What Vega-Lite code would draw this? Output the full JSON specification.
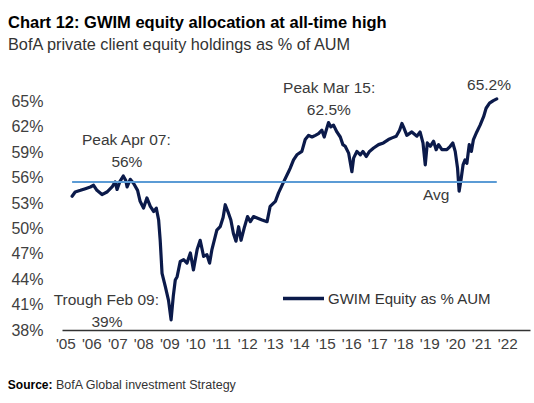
{
  "$schema": "https://vega.github.io/schema/vega-lite/v6.json",
  "autosize": "none",
  "width": 468,
  "height": 237,
  "padding": {"left": 62, "top": 93, "right": 4, "bottom": 73},
  "background": "white",
  "config": {
    "view": {"stroke": null},
    "font": "Liberation Sans",
    "axis": {"labelOverlap": false, "labelFlush": false, "grid": false, "ticks": false, "title": null},
    "axisX": {
      "domain": true,
      "domainColor": "#333333",
      "domainWidth": 1.5,
      "labelFontSize": 15.3,
      "labelColor": "#404040",
      "labelPadding": 6
    },
    "axisY": {
      "domain": false,
      "labelFontSize": 16,
      "labelColor": "#404040",
      "labelPadding": 19
    }
  },
  "title": {
    "text": "Chart 12: GWIM equity allocation at all-time high",
    "subtitle": "BofA private client equity holdings as % of AUM",
    "anchor": "start",
    "frame": "group",
    "dx": -54,
    "offset": 25,
    "font": "Liberation Sans",
    "fontSize": 16.5,
    "fontWeight": "bold",
    "color": "#000000",
    "subtitleFont": "Liberation Sans",
    "subtitleFontSize": 16.3,
    "subtitleColor": "#333333",
    "subtitlePadding": 6
  },
  "datasets": {
    "series": [
      {"date": "2005-04-05", "value": 53.8},
      {"date": "2005-05-18", "value": 54.3},
      {"date": "2005-08-01", "value": 54.5},
      {"date": "2005-10-08", "value": 54.7},
      {"date": "2005-12-17", "value": 54.9},
      {"date": "2006-02-01", "value": 55.1},
      {"date": "2006-03-20", "value": 54.5},
      {"date": "2006-05-30", "value": 54.0},
      {"date": "2006-08-07", "value": 54.3},
      {"date": "2006-10-19", "value": 54.9},
      {"date": "2006-12-01", "value": 55.5},
      {"date": "2006-12-28", "value": 54.6},
      {"date": "2007-02-03", "value": 55.5},
      {"date": "2007-03-25", "value": 56.2},
      {"date": "2007-04-28", "value": 55.7},
      {"date": "2007-05-18", "value": 54.9},
      {"date": "2007-07-01", "value": 55.8},
      {"date": "2007-08-18", "value": 55.3},
      {"date": "2007-10-12", "value": 54.5},
      {"date": "2007-11-17", "value": 53.2},
      {"date": "2008-01-04", "value": 52.4},
      {"date": "2008-02-20", "value": 53.6},
      {"date": "2008-04-08", "value": 52.6},
      {"date": "2008-05-26", "value": 52.0},
      {"date": "2008-07-01", "value": 52.4},
      {"date": "2008-08-03", "value": 51.0},
      {"date": "2008-08-25", "value": 48.6},
      {"date": "2008-09-20", "value": 44.7},
      {"date": "2008-11-06", "value": 43.1},
      {"date": "2008-12-20", "value": 41.5},
      {"date": "2009-01-25", "value": 39.2},
      {"date": "2009-02-25", "value": 42.0},
      {"date": "2009-03-25", "value": 43.9},
      {"date": "2009-04-20", "value": 44.3},
      {"date": "2009-06-03", "value": 46.1},
      {"date": "2009-07-20", "value": 46.3},
      {"date": "2009-09-05", "value": 45.9},
      {"date": "2009-10-23", "value": 47.1},
      {"date": "2009-12-05", "value": 45.1},
      {"date": "2010-01-26", "value": 47.5},
      {"date": "2010-03-10", "value": 48.6},
      {"date": "2010-04-27", "value": 46.7},
      {"date": "2010-06-13", "value": 46.9},
      {"date": "2010-07-20", "value": 45.9},
      {"date": "2010-08-22", "value": 47.5},
      {"date": "2010-10-30", "value": 49.8},
      {"date": "2010-12-16", "value": 50.2},
      {"date": "2011-01-26", "value": 51.3},
      {"date": "2011-02-25", "value": 52.8},
      {"date": "2011-04-12", "value": 51.8},
      {"date": "2011-05-15", "value": 51.0},
      {"date": "2011-06-20", "value": 49.4},
      {"date": "2011-07-26", "value": 48.5},
      {"date": "2011-09-01", "value": 50.2},
      {"date": "2011-10-05", "value": 48.6},
      {"date": "2011-11-17", "value": 50.0},
      {"date": "2012-01-04", "value": 51.4},
      {"date": "2012-02-13", "value": 50.8},
      {"date": "2012-03-28", "value": 51.4},
      {"date": "2012-05-26", "value": 51.2},
      {"date": "2012-07-27", "value": 51.0},
      {"date": "2012-10-05", "value": 50.8},
      {"date": "2012-11-17", "value": 52.6},
      {"date": "2013-01-30", "value": 53.2},
      {"date": "2013-03-15", "value": 54.2},
      {"date": "2013-05-26", "value": 55.5},
      {"date": "2013-08-03", "value": 56.7},
      {"date": "2013-08-25", "value": 57.1},
      {"date": "2013-10-12", "value": 58.1},
      {"date": "2013-11-28", "value": 58.7},
      {"date": "2014-02-06", "value": 59.1},
      {"date": "2014-03-25", "value": 60.5},
      {"date": "2014-05-12", "value": 61.0},
      {"date": "2014-06-28", "value": 60.8},
      {"date": "2014-08-15", "value": 61.0},
      {"date": "2014-09-28", "value": 61.2},
      {"date": "2014-11-14", "value": 61.6},
      {"date": "2014-12-17", "value": 60.8},
      {"date": "2015-02-15", "value": 62.5},
      {"date": "2015-03-20", "value": 62.0},
      {"date": "2015-04-27", "value": 62.2},
      {"date": "2015-06-13", "value": 61.4},
      {"date": "2015-07-31", "value": 60.8},
      {"date": "2015-09-05", "value": 59.9},
      {"date": "2015-10-08", "value": 59.7},
      {"date": "2015-11-25", "value": 58.9},
      {"date": "2016-01-10", "value": 56.7},
      {"date": "2016-02-03", "value": 58.3},
      {"date": "2016-03-20", "value": 59.1},
      {"date": "2016-05-08", "value": 58.7},
      {"date": "2016-06-13", "value": 59.1},
      {"date": "2016-07-31", "value": 58.5},
      {"date": "2016-09-13", "value": 59.1},
      {"date": "2016-11-10", "value": 59.5},
      {"date": "2017-01-19", "value": 59.9},
      {"date": "2017-03-28", "value": 60.1},
      {"date": "2017-06-06", "value": 60.5},
      {"date": "2017-07-27", "value": 60.7},
      {"date": "2017-09-24", "value": 60.9},
      {"date": "2017-11-10", "value": 61.6},
      {"date": "2017-12-13", "value": 62.4},
      {"date": "2018-01-04", "value": 62.0},
      {"date": "2018-02-20", "value": 61.0},
      {"date": "2018-05-01", "value": 61.4},
      {"date": "2018-07-12", "value": 60.9},
      {"date": "2018-08-25", "value": 61.4},
      {"date": "2018-10-05", "value": 60.1},
      {"date": "2018-11-06", "value": 57.5},
      {"date": "2018-12-05", "value": 60.1},
      {"date": "2019-01-15", "value": 59.7},
      {"date": "2019-03-03", "value": 60.3},
      {"date": "2019-04-08", "value": 59.3},
      {"date": "2019-05-12", "value": 59.9},
      {"date": "2019-06-28", "value": 59.3},
      {"date": "2019-09-05", "value": 59.3},
      {"date": "2019-10-23", "value": 59.7},
      {"date": "2019-11-28", "value": 60.1},
      {"date": "2020-01-01", "value": 59.1},
      {"date": "2020-02-03", "value": 57.1},
      {"date": "2020-02-25", "value": 54.4},
      {"date": "2020-03-25", "value": 55.9},
      {"date": "2020-04-20", "value": 57.5},
      {"date": "2020-05-18", "value": 58.1},
      {"date": "2020-06-13", "value": 57.7},
      {"date": "2020-07-16", "value": 59.9},
      {"date": "2020-08-15", "value": 59.1},
      {"date": "2020-09-13", "value": 60.5},
      {"date": "2020-10-30", "value": 61.4},
      {"date": "2020-12-16", "value": 62.2},
      {"date": "2021-02-03", "value": 63.2},
      {"date": "2021-03-10", "value": 64.2},
      {"date": "2021-04-27", "value": 64.8},
      {"date": "2021-06-20", "value": 65.1},
      {"date": "2021-08-07", "value": 65.3}
    ],
    "avg": [
      {"start": "2005-04-05", "end": "2021-08-07", "avg": 55.5}
    ],
    "notes": [
      {"date": "2007-05-08", "value": 60.5, "label": "Peak Apr 07:"},
      {"date": "2007-05-15", "value": 57.9, "label": "56%"},
      {"date": "2015-02-25", "value": 66.6, "label": "Peak Mar 15:"},
      {"date": "2015-02-20", "value": 64.0, "label": "62.5%"},
      {"date": "2021-04-20", "value": 66.9, "label": "65.2%"},
      {"date": "2019-04-08", "value": 53.9, "label": "Avg"},
      {"date": "2006-07-30", "value": 41.55, "label": "Trough Feb 09:"},
      {"date": "2006-08-07", "value": 38.98, "label": "39%"}
    ],
    "source": [
      {"date": "2002-10-15", "value": 31.5, "label": "Source:"}
    ],
    "sourceText": [
      {"date": "2004-08-20", "value": 31.5, "label": "BofA Global investment Strategy"}
    ]
  },
  "layer": [
    {
      "data": {"name": "series"},
      "mark": {"type": "line", "strokeWidth": 3.2, "strokeJoin": "round", "strokeCap": "round"},
      "encoding": {
        "x": {
          "field": "date", "type": "temporal",
          "scale": {"domain": ["2004-11-14", "2022-11-17"]},
          "axis": {
            "values": ["2005-01-01","2006-01-01","2007-01-01","2008-01-01","2009-01-01","2010-01-01","2011-01-01","2012-01-01","2013-01-01","2014-01-01","2015-01-01","2016-01-01","2017-01-01","2018-01-01","2019-01-01","2020-01-01","2021-01-01","2022-01-01"],
            "tickCount": 40,
            "format": "'%y",
            "labelOverlap": false
          }
        },
        "y": {
          "field": "value", "type": "quantitative",
          "scale": {"domain": [38, 66], "zero": false},
          "axis": {
            "values": [38, 41, 44, 47, 50, 53, 56, 59, 62, 65],
            "tickCount": 40,
            "labelExpr": "datum.value + '%'",
            "labelOverlap": false
          }
        },
        "color": {
          "datum": "GWIM Equity as % AUM",
          "type": "nominal",
          "scale": {"range": ["#0b1a4a"]},
          "legend": {
            "title": null,
            "orient": "none",
            "legendX": 219,
            "legendY": 183,
            "symbolType": "stroke",
            "symbolSize": 1681,
            "symbolStrokeWidth": 3.5,
            "labelFontSize": 15,
            "labelColor": "#333333",
            "labelOffset": 2,
            "labelLimit": 400,
            "padding": 0
          }
        }
      }
    },
    {
      "data": {"name": "avg"},
      "mark": {"type": "rule", "color": "#5b9bd5", "strokeWidth": 2},
      "encoding": {
        "x": {"field": "start", "type": "temporal"},
        "x2": {"field": "end"},
        "y": {"field": "avg", "type": "quantitative"}
      }
    },
    {
      "data": {"name": "notes"},
      "mark": {"type": "text", "align": "center", "baseline": "middle", "fontSize": 15.5, "color": "#3a3a3a"},
      "encoding": {
        "x": {"field": "date", "type": "temporal"},
        "y": {"field": "value", "type": "quantitative"},
        "text": {"field": "label"}
      }
    },
    {
      "data": {"name": "source"},
      "mark": {"type": "text", "align": "left", "baseline": "middle", "fontSize": 12, "fontWeight": "bold", "color": "#000000"},
      "encoding": {
        "x": {"field": "date", "type": "temporal"},
        "y": {"field": "value", "type": "quantitative"},
        "text": {"field": "label"}
      }
    },
    {
      "data": {"name": "sourceText"},
      "mark": {"type": "text", "align": "left", "baseline": "middle", "fontSize": 12.5, "color": "#333333"},
      "encoding": {
        "x": {"field": "date", "type": "temporal"},
        "y": {"field": "value", "type": "quantitative"},
        "text": {"field": "label"}
      }
    }
  ]
}
